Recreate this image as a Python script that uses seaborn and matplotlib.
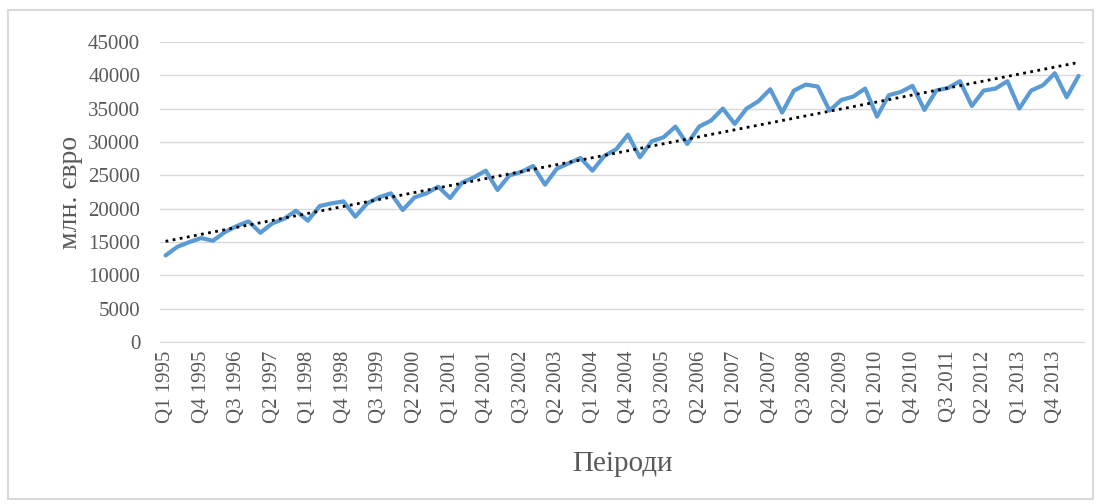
import numpy as np
import pandas as pd
import matplotlib
matplotlib.use("Agg")
import matplotlib.pyplot as plt
from matplotlib.patches import Rectangle
import seaborn as sns

# quarterly values, mln EUR (Q1 1995 .. Q2 2014)
years = list(range(1995, 2015))
values = [
    13000, 14300, 15000, 15600,
    15200, 16500, 17400, 18100,
    16400, 17800, 18500, 19700,
    18200, 20400, 20800, 21100,
    18800, 20800, 21700, 22300,
    19800, 21700, 22300, 23300,
    21600, 23900, 24700, 25700,
    22800, 25000, 25500, 26400,
    23600, 26000, 26800, 27600,
    25700, 27900, 28900, 31100,
    27700, 30100, 30700, 32300,
    29700, 32300, 33200, 35000,
    32700, 35000, 36100, 37900,
    34400, 37700, 38600, 38300,
    34700, 36300, 36800, 38000,
    33800, 37000, 37500, 38400,
    34800, 37700, 38100, 39100,
    35400, 37700, 38000, 39100,
    35000, 37700, 38500, 40300,
    36700, 39900,
]
quarters = [f"Q{q} {y}" for y in years for q in range(1, 5)][:len(values)]
y_ticks = list(range(0, 45001, 5000))

df = pd.DataFrame({"idx": np.arange(len(values)), "period": quarters, "value": values})

# linear trend like Excel's
coef = np.polyfit(df["idx"], df["value"], 1)
df["trend"] = np.polyval(coef, df["idx"])

sns.set_style("white")
plt.rcParams["font.family"] = ["Liberation Serif", "DejaVu Serif"]

fig = plt.figure(figsize=(11.01, 5.04), dpi=100)
ax = fig.add_axes([0.145, 0.321, 0.84, 0.596])

sns.lineplot(data=df, x="idx", y="value", color="#5B9BD5", linewidth=3.0, ax=ax)
sns.lineplot(data=df, x="idx", y="trend", color="black", linewidth=2.0,
             linestyle=(0, (1, 1.6)), ax=ax)

ax.set_xlim(-0.5, len(values) - 0.5)
ax.set_ylim(0, 45000)
ax.set_yticks(y_ticks)
ax.set_yticklabels([str(v) for v in y_ticks])
ax.set_xticks(df["idx"][::3])
ax.set_xticklabels(df["period"][::3], rotation=90)
ax.tick_params(axis="both", length=0, labelsize=15, labelcolor="#595959")
ax.tick_params(axis="y", pad=14)
ax.tick_params(axis="x", pad=6)
ax.grid(axis="y", color="#d9d9d9", linewidth=1)
ax.set_axisbelow(True)
for s in ["top", "right", "left"]:
    ax.spines[s].set_visible(False)
ax.spines["bottom"].set_color("#d9d9d9")

ax.set_xlabel("Пеіроди", fontsize=21, color="#595959", labelpad=20)
ax.set_ylabel("млн. євро", fontsize=20, color="#595959", labelpad=4)

fig.patches.append(Rectangle((0.007, 0.01), 0.986, 0.97, transform=fig.transFigure,
                             fill=False, edgecolor="#d9d9d9", linewidth=1.5))

fig.savefig("out.png", dpi=100)
plt.close(fig)
